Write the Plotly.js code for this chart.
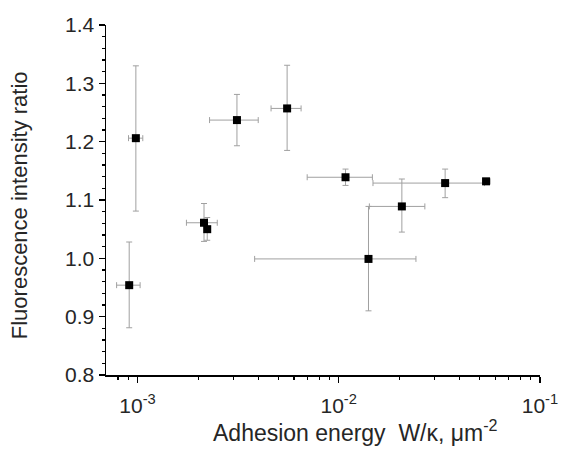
<!DOCTYPE html>
<html>
<head>
<meta charset="utf-8">
<script src="https://cdn.plot.ly/plotly-3.0.1.min.js"></script>
<style>html,body{margin:0;padding:0;background:#fff;}#chart{width:561px;height:450px;}</style>
</head>
<body>
<div id="chart"></div>
<script>
// Adhesion energy W/kappa (um^-2) and fluorescence intensity ratio
const adhesion   = [9.09e-4, 9.81e-4, 3.12e-3, 5.54e-3, 2.14e-3, 2.22e-3, 1.406e-2, 1.081e-2, 2.06e-2, 3.38e-2, 5.40e-2];
const adhesionLo = [7.87e-4, 9.02e-4, 2.28e-3, 4.61e-3, 1.75e-3, 2.17e-3, 3.82e-3, 6.97e-3, 1.42e-2, 1.48e-2, 5.20e-2];
const adhesionHi = [1.03e-3, 1.062e-3, 3.98e-3, 6.50e-3, 2.49e-3, 2.27e-3, 2.42e-2, 1.47e-2, 2.68e-2, 5.30e-2, 5.65e-2];
const ratio      = [0.954, 1.206, 1.237, 1.257, 1.061, 1.050, 0.999, 1.139, 1.089, 1.129, 1.132];
const ratioLo    = [0.881, 1.081, 1.193, 1.185, 1.029, 1.031, 0.910, 1.125, 1.045, 1.104, 1.127];
const ratioHi    = [1.028, 1.330, 1.281, 1.331, 1.094, 1.070, 1.089, 1.153, 1.136, 1.153, 1.137];
const xTickVals  = [0.001, 0.01, 0.1];
const xTickText  = ['10<sup>-3</sup>', '10<sup>-2</sup>', '10<sup>-1</sup>'];
const xMinorVals = [8e-4, 9e-4, 2e-3, 3e-3, 4e-3, 5e-3, 6e-3, 7e-3, 8e-3, 9e-3,
                    2e-2, 3e-2, 4e-2, 5e-2, 6e-2, 7e-2, 8e-2, 9e-2];
const xTitle = 'Adhesion energy  W/\u03ba, \u03bcm<sup>-2</sup>';
const yTitle = 'Fluorescence intensity ratio';

const trace = {
  x: adhesion,
  y: ratio,
  type: 'scatter',
  mode: 'markers',
  marker: {symbol: 'square', size: 8, color: '#000'},
  error_x: {type: 'data', symmetric: false,
    array: adhesion.map((v, i) => adhesionHi[i] - v),
    arrayminus: adhesion.map((v, i) => v - adhesionLo[i]),
    color: '#a0a0a0', thickness: 1, width: 3},
  error_y: {type: 'data', symmetric: false,
    array: ratio.map((v, i) => ratioHi[i] - v),
    arrayminus: ratio.map((v, i) => v - ratioLo[i]),
    color: '#a0a0a0', thickness: 1, width: 3},
  hoverinfo: 'x+y'
};

const fam = 'Liberation Sans, Arial, sans-serif';
const txt = '#262626';

const layout = {
  width: 561, height: 450,
  margin: {l: 106, r: 21, t: 25, b: 75},
  paper_bgcolor: '#fff', plot_bgcolor: '#fff',
  showlegend: false,
  font: {family: fam, color: txt, size: 21},
  xaxis: {
    type: 'log',
    range: [Math.log10(6.97e-4), -0.9995],
    tickmode: 'array',
    tickvals: xTickVals,
    ticktext: xTickText,
    ticklabelstandoff: 5,
    showgrid: false, zeroline: false,
    showline: true, linecolor: '#000', linewidth: 1.5,
    ticks: 'outside', ticklen: 6, tickwidth: 1.5, tickcolor: '#000',
    minor: {tickmode: 'array', tickvals: xMinorVals, ticks: 'outside', ticklen: 3, tickwidth: 1.2, tickcolor: '#000', showgrid: false},
    tickfont: {family: fam, size: 21, color: txt},
    automargin: false
  },
  yaxis: {
    range: [0.8, 1.4],
    dtick: 0.1,
    tickformat: '.1f',
    showgrid: false, zeroline: false,
    showline: true, linecolor: '#000', linewidth: 1.5,
    ticks: 'outside', ticklen: 6, tickwidth: 1.5, tickcolor: '#000',
    minor: {ticks: 'outside', ticklen: 3, tickwidth: 1.2, tickcolor: '#000', dtick: 0.02, showgrid: false},
    tickfont: {family: fam, size: 21, color: txt},
    automargin: false
  },
  annotations: [
    {text: xTitle, xref: 'paper', yref: 'paper', x: 0.574, y: -0.16,
     xanchor: 'center', yanchor: 'middle', showarrow: false,
     font: {family: fam, size: 23, color: txt}},
    {text: yTitle, xref: 'paper', yref: 'paper', x: -0.2005, y: 0.485,
     xanchor: 'center', yanchor: 'middle', showarrow: false, textangle: -90,
     font: {family: fam, size: 22, color: txt}}
  ]
};

Plotly.newPlot('chart', [trace], layout, {displayModeBar: false, staticPlot: true});
</script>
</body>
</html>
